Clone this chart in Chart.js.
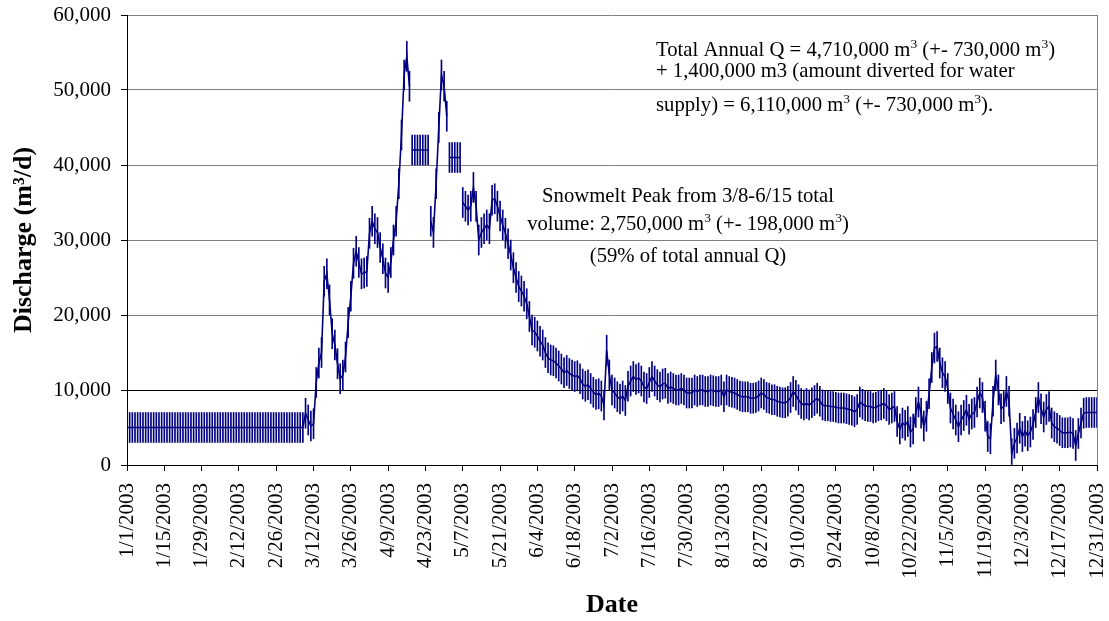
<!DOCTYPE html>
<html>
<head>
<meta charset="utf-8">
<script src="https://cdn.jsdelivr.net/npm/chart.js@4.4.1/dist/chart.umd.min.js"></script>
<style>
  body { margin: 0; background: #fff; }
</style>
</head>
<body>
<canvas id="dischargeChart" width="1109" height="621"></canvas>
<script>
const jan = [5000,5000,5000,5000,5000,5000,5000,5000,5000,5000,
             5000,5000,5000,5000,5000,5000,5000,5000,5000,5000,
             5000,5000,5000,5000,5000,5000,5000,5000,5000,5000,5000];
const feb = [5000,5000,5000,5000,5000,5000,5000,5000,5000,5000,
             5000,5000,5000,5000,5000,5000,5000,5000,5000,5000,
             5000,5000,5000,5000,5000,5000,5000,5000];
const mar = [5000,5000,5000,5000,5000,5000,5000,5000,6900,6000,
             5200,5500,11000,13600,15000,24500,25500,22000,17500,16000,
             13500,11500,12000,14400,19000,22500,26900,28500,27000,25500,25600];
const apr = [25800,30900,32500,31500,31000,29000,27500,25600,25000,27000,
             30000,32500,37500,44000,52000,54500,50500,null,null,null,
             null,null,null,null,32500,31000,37500,45000,52000,50500];
const may = [46500,null,null,null,null,null,35000,34500,34000,34500,
             37000,34500,30000,31000,31500,32000,31500,35300,35500,34500,
             33200,32000,30900,29500,28000,26300,25000,23800,23200,22500,21500];
const jun = [19800,18000,17700,17200,16500,16000,15000,14300,14000,13900,
             13600,13200,12800,12300,12600,12200,12000,11800,11900,11500,
             10800,10500,10700,10200,9700,9400,9500,9200,8000,15300];
const jul = [12000,10000,9600,9100,8800,9200,8600,10500,11200,11800,
             11400,11600,11200,10400,10200,11000,11800,11200,10700,10400,
             10800,10900,10200,10400,10200,10000,10000,10200,10000,9600,9600];
const aug = [9600,10000,9800,10000,10000,9800,9800,10000,9900,9800,
             9800,10000,9100,10000,9800,9700,9600,9400,9200,9100,
             9100,9100,8900,8900,9000,9200,9600,9400,9000,8900,8700];
const sep = [8700,8500,8400,8300,8300,8500,9000,9800,9300,8700,
             8200,8000,8200,8000,8300,8600,8900,8500,8000,7900,
             7900,7800,7800,7700,7600,7600,7600,7500,7400,7300];
const oct = [7100,7400,8400,8100,7900,7800,7800,7600,7700,7900,
             8000,8200,7900,7400,7600,7800,5800,4800,5600,5300,
             5800,4400,4800,7000,8400,6900,5200,6500,9500,13000,15600];
const nov = [15800,13600,12300,11800,10200,7600,6800,6000,5100,6000,
             6600,7300,6100,6800,7000,8400,9600,9000,6500,3800,
             3500,8500,12000,10000,7500,7800,9800,8500,1500,2900];
const dec = [3600,4900,3800,4500,3900,4400,5400,7000,9000,7500,
             6400,7400,7800,5600,5100,4900,4600,4300,4300,4300,
             4400,4200,2600,4200,5600,6900,7000,7000,7000,7000,7000];

// estimated (filled-in) blocks where the record has gaps
const aprEst = [null,null,null,null,null,null,null,null,null,null,
                null,null,null,null,null,null,null,42000,42000,42000,
                42000,42000,42000,42000,null,null,null,null,null,null];
const mayEst = [null,41000,41000,41000,41000,41000];

const errorHalf = 2000;   // +- error bar
const monthDays = [31,28,31,30,31,30,31,31,30,31,30,31];

const dates = [];
monthDays.forEach((n, m) => {
    for (let d = 1; d <= n; d++) dates.push((m + 1) + '/' + d + '/2003');
});

const measured = [].concat(jan, feb, mar, apr, may, jun, jul, aug, sep, oct, nov, dec);
const estimated = [].concat(new Array(90).fill(null), aprEst, mayEst,
                            new Array(dates.length - 90 - aprEst.length - mayEst.length).fill(null));
const errorBars = measured.map((v, i) => {
    const c = v !== null ? v : estimated[i];
    return c === null ? null : [Math.max(0, c - errorHalf), c + errorHalf];
});

const navy = '#000080';
const serif = "'Liberation Serif', 'Times New Roman', serif";

const notes = [
    { x: 656, align: 'left', lines: [
        { y: 56,  text: 'Total Annual Q = 4,710,000 m^3 (+- 730,000 m^3)' },
        { y: 77,  text: '+ 1,400,000 m3 (amount diverted for water' },
        { y: 111, text: 'supply) = 6,110,000 m^3 (+- 730,000 m^3).' }
    ]},
    { x: 688, align: 'center', lines: [
        { y: 202, text: 'Snowmelt Peak from 3/8-6/15 total' },
        { y: 230, text: 'volume: 2,750,000 m^3 (+- 198,000 m^3)' },
        { y: 262, text: '(59% of total annual Q)' }
    ]}
];

function splitSup(text) {
    // "m^3" -> normal "m", superscript "3"
    const out = [];
    text.split('^').forEach((p, i) => {
        if (i === 0) { out.push([p, false]); return; }
        out.push([p[0], true]);
        if (p.length > 1) out.push([p.slice(1), false]);
    });
    return out;
}

const notesPlugin = {
    id: 'notes',
    afterDraw(chart) {
        const ctx = chart.ctx;
        ctx.save();
        ctx.fillStyle = '#000';
        ctx.textBaseline = 'alphabetic';
        ctx.textAlign = 'left';
        notes.forEach(block => {
            block.lines.forEach(line => {
                const parts = splitSup(line.text);
                let w = 0;
                parts.forEach(([t, sup]) => {
                    ctx.font = (sup ? 13.5 : 20.7) + 'px ' + serif;
                    w += ctx.measureText(t).width;
                });
                let x = block.align === 'center' ? block.x - w / 2 : block.x;
                parts.forEach(([t, sup]) => {
                    ctx.font = (sup ? 13.5 : 20.7) + 'px ' + serif;
                    ctx.fillText(t, x, sup ? line.y - 8 : line.y);
                    x += ctx.measureText(t).width;
                });
            });
        });
        ctx.restore();
    }
};

const framePlugin = {
    id: 'frame',
    beforeDatasetsDraw(chart) {
        const { ctx, chartArea: a } = chart;
        ctx.save();
        ctx.strokeStyle = '#808080';
        ctx.lineWidth = 1;
        ctx.beginPath();
        ctx.moveTo(Math.round(a.right) + 0.5, a.top);
        ctx.lineTo(Math.round(a.right) + 0.5, a.bottom);
        ctx.stroke();
        ctx.restore();
    }
};

new Chart(document.getElementById('dischargeChart'), {
    type: 'bar',
    data: {
        labels: dates,
        datasets: [
            { type: 'line', data: measured, borderColor: navy, borderWidth: 1.6,
              pointRadius: 0, spanGaps: false, order: 1 },
            { type: 'line', data: estimated, borderColor: navy, borderWidth: 1.6,
              pointRadius: 0, spanGaps: false, order: 2 },
            { type: 'bar', data: errorBars, backgroundColor: navy, barThickness: 1, order: 3 }
        ]
    },
    options: {
        responsive: false,
        animation: false,
        layout: { padding: { top: 15, right: 12, bottom: 0, left: 0 } },
        plugins: { legend: { display: false }, tooltip: { enabled: false } },
        scales: {
            x: {
                offset: false,
                grid: {
                    offset: false,
                    drawOnChartArea: false,
                    tickLength: 6,
                    tickColor: c => (c.index % 14 === 0 ? '#000' : 'rgba(0,0,0,0)')
                },
                border: { color: '#000' },
                ticks: {
                    autoSkip: false, maxRotation: 90, minRotation: 90, padding: 12,
                    color: '#000', font: { family: serif, size: 21 },
                    callback: (v, i) => (i % 14 === 0 ? dates[i] : '')
                },
                title: {
                    display: true, text: 'Date', color: '#000',
                    font: { family: serif, size: 26, weight: 'bold' },
                    padding: { top: 0, bottom: 0 }
                },
                afterFit: s => {
                    s.height = 156;
                    s.paddingLeft = 0;
                    s.paddingRight = 0;
                }
            },
            y: {
                min: 0, max: 60000,
                ticks: {
                    stepSize: 10000, padding: 10, color: '#000',
                    font: { family: serif, size: 21 },
                    callback: v => v.toLocaleString('en-US')
                },
                grid: {
                    color: c => (c.tick && c.tick.value === 10000 ? '#000' : '#808080'),
                    tickColor: '#000', tickLength: 6
                },
                border: { color: '#000' },
                title: {
                    display: true, text: 'Discharge (m³/d)', color: '#000',
                    font: { family: serif, size: 26, weight: 'bold' },
                    padding: { top: 9, bottom: 0 }
                },
                afterFit: s => {
                    s.width = 127;
                    s.paddingTop = 0;
                    s.paddingBottom = 0;
                }
            }
        }
    },
    plugins: [framePlugin, notesPlugin]
});
</script>
</body>
</html>
